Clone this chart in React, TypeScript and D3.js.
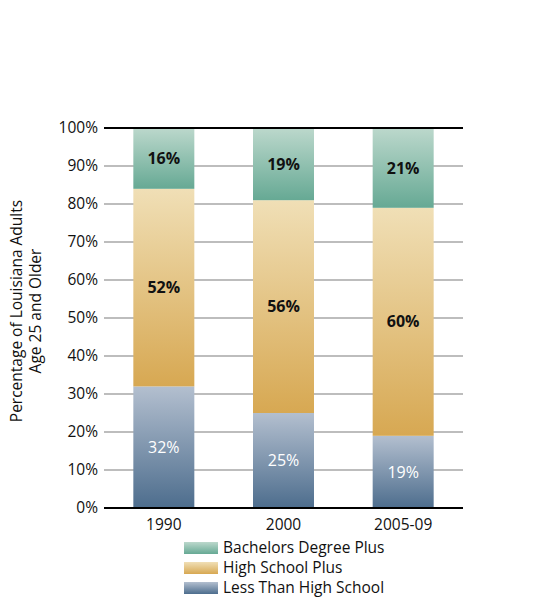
import React from 'react';
import * as d3 from 'd3';

const years = ['1990', '2000', '2005-09'];
const lessThanHS = [32, 25, 19];
const highSchool = [52, 56, 60];
const bachelors = [16, 19, 21];
const yTicks = [0, 10, 20, 30, 40, 50, 60, 70, 80, 90, 100];

const seriesDefs = [
  { key: 'less', name: 'Less Than High School', values: lessThanHS, top: '#b3bfcf', bottom: '#4d6d8d', text: '#ffffff', weight: 400 },
  { key: 'hs', name: 'High School Plus', values: highSchool, top: '#f0dfb6', bottom: '#d7a852', text: '#111111', weight: 700 },
  { key: 'ba', name: 'Bachelors Degree Plus', values: bachelors, top: '#bcd8cc', bottom: '#66a994', text: '#111111', weight: 700 },
];

const width = 534;
const height = 602;
const margin = { top: 128, right: 71, bottom: 94, left: 104 };
const font = '"Open Sans", "Noto Sans", sans-serif';

export default function App() {
  const innerW = width - margin.left - margin.right;
  const innerH = height - margin.top - margin.bottom;

  const x = d3.scalePoint<string>().domain(years).range([0, innerW]).padding(0.5);
  const bw = 61;
  const xc = (yr: string) => x(yr) ?? 0;
  const y = d3.scaleLinear().domain([0, 100]).range([innerH, 0]);

  const table = years.map((yr, i) => ({ year: yr, less: lessThanHS[i], hs: highSchool[i], ba: bachelors[i] }));
  const stack = d3.stack<any>().keys(seriesDefs.map(s => s.key))(table);

  const legendOrder = [seriesDefs[2], seriesDefs[1], seriesDefs[0]];

  return (
    <svg width={width} height={height} style={{ position: 'absolute', left: 0, top: 0, background: '#fff' }} fontFamily={font}>
      <defs>
        {seriesDefs.map(s => (
          <linearGradient key={s.key} id={`g-${s.key}`} x1="0" y1="0" x2="0" y2="1">
            <stop offset="0%" stopColor={s.top} />
            <stop offset="100%" stopColor={s.bottom} />
          </linearGradient>
        ))}
      </defs>
      <g transform={`translate(${margin.left},${margin.top})`}>
        {yTicks.map(t => (
          <g key={t}>
            {t !== 0 && t !== 100 && (
              <line x1={0} x2={innerW} y1={y(t)} y2={y(t)} stroke="#bdbdbd" strokeWidth={2} />
            )}
            <text x={-6} y={y(t)} dy="0.35em" textAnchor="end" fontSize={15.5} fill="#111">{t}%</text>
          </g>
        ))}
        {stack.map((layer, li) => {
          const s = seriesDefs[li];
          return (
            <g key={s.key}>
              {layer.map((d, i) => {
                const cx = xc(years[i]);
                const y0 = y(d[1]);
                const h = y(d[0]) - y(d[1]);
                return (
                  <g key={i}>
                    <rect x={cx - bw / 2} y={y0} width={bw} height={h} fill={`url(#g-${s.key})`} />
                    <text x={cx} y={y0 + h / 2} dy="0.35em" textAnchor="middle" fontSize={16} fontWeight={s.weight} fill={s.text}>
                      {s.values[i]}%
                    </text>
                  </g>
                );
              })}
            </g>
          );
        })}
        <line x1={0} x2={innerW} y1={y(100)} y2={y(100)} stroke="#000" strokeWidth={2} />
        <line x1={0} x2={innerW} y1={y(0)} y2={y(0)} stroke="#000" strokeWidth={2} />
        {years.map(yr => (
          <text key={yr} x={xc(yr)} y={innerH + 17} dy="0.35em" textAnchor="middle" fontSize={15.5} fill="#111">{yr}</text>
        ))}
      </g>
      <text transform={`translate(22,311) rotate(-90)`} textAnchor="middle" fontSize={15.5} fill="#111">
        <tspan x={0} dy={0}>Percentage of Louisiana Adults</tspan>
        <tspan x={0} dy={19}>Age 25 and Older</tspan>
      </text>
      {legendOrder.map((s, i) => (
        <g key={s.key} transform={`translate(184,${542 + i * 20})`}>
          <rect x={0} y={0} width={34} height={12} fill={`url(#g-${s.key})`} />
          <text x={39} y={6} dy="0.35em" fontSize={15.5} fill="#111">{s.name}</text>
        </g>
      ))}
    </svg>
  );
}
